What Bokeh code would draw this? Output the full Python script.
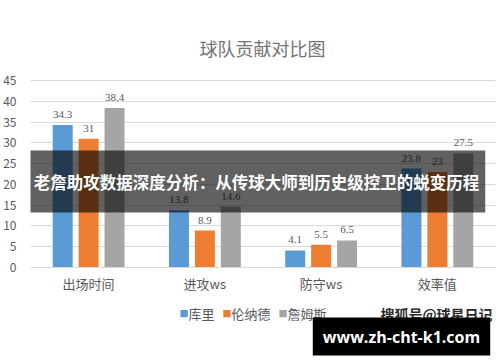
from bokeh.plotting import figure
from bokeh.models import ColumnDataSource, FactorRange, Label, LabelSet
from bokeh.transform import dodge
from bokeh.embed import file_html
from bokeh.resources import INLINE

categories = ["出场时间", "进攻ws", "防守ws", "效率值"]
curry = [34.3, 13.8, 4.1, 23.8]
leonard = [31, 8.9, 5.5, 23]
james = [38.4, 14.6, 6.5, 27.5]
series_names = ["库里", "伦纳德", "詹姆斯"]
colors = ["#5B9BD5", "#ED7D31", "#A5A5A5"]
y_ticks = [0, 5, 10, 15, 20, 25, 30, 35, 40, 45]

title_text = "球队贡献对比图"
banner_text = "老詹助攻数据深度分析：从传球大师到历史级控卫的蜕变历程"
watermark_text = "搜狐号@球星日记"
site_text = "www.zh-cht-k1.com"

CJK = "Noto Sans CJK SC"
TXT = "#595959"

src = ColumnDataSource(dict(
    cat=categories, curry=curry, leonard=leonard, james=james,
    curry_t=[f"{v:g}" for v in curry],
    leonard_t=[f"{v:g}" for v in leonard],
    james_t=[f"{v:g}" for v in james],
))

# the data area spans the full height; the value axis runs 0..45 in its middle part
p = figure(width=500, height=362, x_range=FactorRange(*categories, range_padding=0),
           y_range=(-22.86, 64.25), output_backend="svg", toolbar_location=None,
           min_border_left=28, min_border_right=5, min_border_top=0, min_border_bottom=0)
p.outline_line_color = None
p.background_fill_color = "white"
p.border_fill_color = "white"

offsets = [-0.223, 0.0, 0.223]
keys = ["curry", "leonard", "james"]
for off, key, col in zip(offsets, keys, colors):
    p.vbar(x=dodge("cat", off, range=p.x_range), top=key, width=0.172, source=src,
           fill_color=col, line_color=None)
    ls = LabelSet(x=dodge("cat", off, range=p.x_range), y=key, text=key + "_t", source=src,
                  text_align="center", text_baseline="bottom", y_offset=7,
                  text_font=CJK, text_font_size="11px", text_color=TXT)
    p.add_layout(ls)

p.yaxis.ticker = y_ticks
p.yaxis.axis_line_color = None
p.yaxis.major_tick_line_color = None
p.yaxis.minor_tick_line_color = None
p.yaxis.major_label_standoff = 8
p.yaxis.major_label_text_font = CJK
p.yaxis.major_label_text_font_size = "12px"
p.yaxis.major_label_text_color = TXT

p.xaxis.fixed_location = 0
p.xaxis.axis_line_color = "#D9D9D9"
p.xaxis.major_tick_line_color = None
p.xaxis.minor_tick_line_color = None
p.xaxis.major_label_standoff = 0
p.xaxis.major_label_text_font = CJK
p.xaxis.major_label_text_font_size = "13px"
p.xaxis.major_label_text_color = TXT

p.xgrid.grid_line_color = None
p.ygrid.grid_line_color = "#D9D9D9"

# screen units: x from the data area's left edge (28 px), y up from its bottom edge
def scr_label(**kw):
    p.add_layout(Label(x_units="screen", y_units="screen", **kw))

scr_label(x=232, y=315, text=title_text, text_align="center", text_baseline="middle",
          text_font=CJK, text_font_size="18px", text_color="#757575")

# legend
lx = 150
for name, col in zip(series_names, colors):
    scr_label(x=lx - 1, y=49, text="■", text_align="left", text_baseline="middle",
              text_font=CJK, text_font_size="9px", text_color=col)
    scr_label(x=lx + 8, y=49, text=name, text_align="left", text_baseline="middle",
              text_font=CJK, text_font_size="13px", text_color=TXT)
    lx += 8 + 13 * len(name) + 9

scr_label(x=226, y=181, text=banner_text, text_align="center", text_baseline="middle",
          text_font=CJK, text_font_size="16.5px", text_font_style="bold", text_color="white",
          background_fill_color="#000000", background_fill_alpha=0.62, padding=(6, 19))

scr_label(x=406, y=49, text=watermark_text, text_align="center", text_baseline="middle",
          text_font=CJK, text_font_size="14px", text_font_style="bold", text_color="#2b2b2b")

scr_label(x=371, y=26, text=site_text, text_align="center", text_baseline="middle",
          text_font="Open Sans", text_font_size="16px", text_font_style="bold", text_color="white",
          background_fill_color="#000000", background_fill_alpha=1.0, padding=(10, 8))

open("out.html", "w").write(file_html(p, INLINE))
